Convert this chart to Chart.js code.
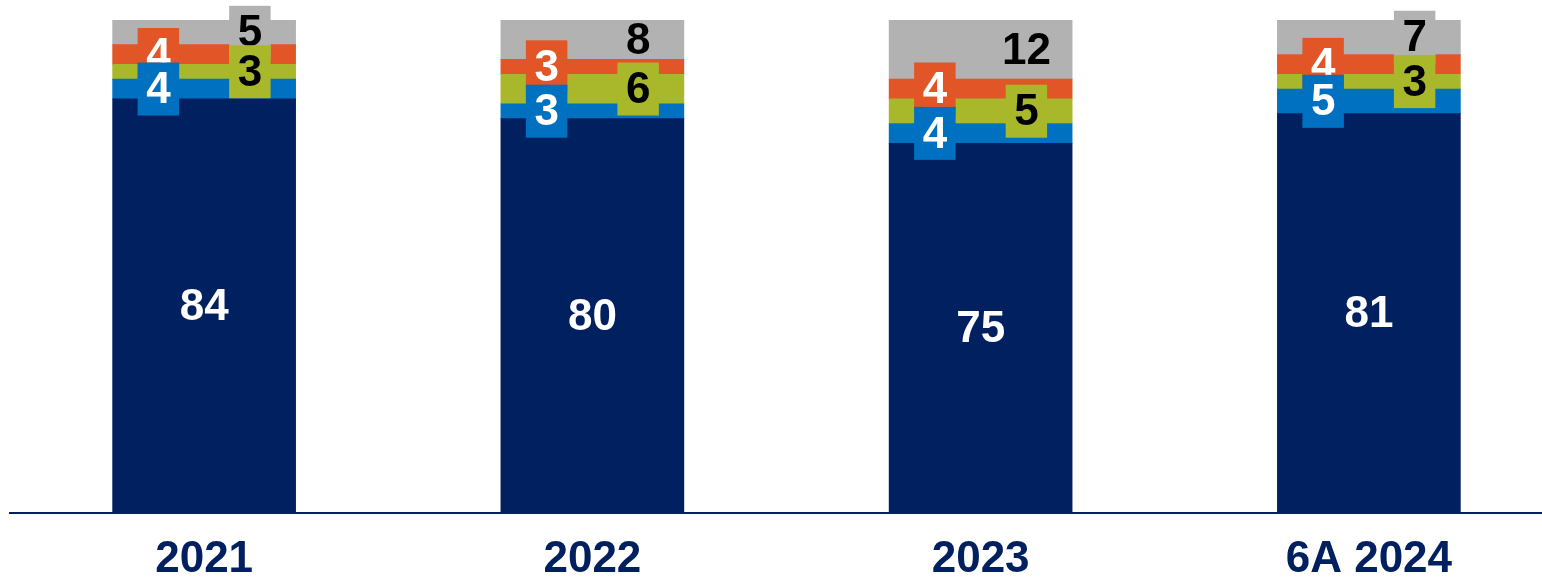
<!DOCTYPE html>
<html>
<head>
<meta charset="utf-8">
<script src="https://cdn.jsdelivr.net/npm/chart.js@4.4.1/dist/chart.umd.min.js"></script>
<style>
  html, body { margin: 0; padding: 0; background: #fff; overflow: hidden; }
  #wrap { position: relative; width: 1564px; height: 584px; }
</style>
</head>
<body>
<div id="wrap"><canvas id="shareChart"></canvas></div>
<script>
const years = ['2021', '2022', '2023', '6A 2024'];
const navyValues = [84, 80, 75, 81];
const blueValues = [4, 3, 4, 5];
const greenValues = [3, 6, 5, 3];
const orangeValues = [4, 3, 4, 4];
const greyValues = [5, 8, 12, 7];

const NAVY = '#002060';
const FONT = '"Liberation Sans", Arial, sans-serif';

// label placement per series: fraction of bar width to shift, and text colour
const labelSide = [0, -0.25, 0.25, -0.25, 0.25];
const labelColors = ['#ffffff', '#ffffff', '#000000', '#ffffff', '#000000'];

const segmentLabels = {
    id: 'segmentLabels',
    afterDatasetsDraw(chart) {
        const ctx = chart.ctx;
        ctx.save();
        ctx.font = 'bold 44px ' + FONT;
        ctx.textAlign = 'center';
        ctx.textBaseline = 'middle';
        // draw top series first so lower labels sit on top of them
        for (let d = chart.data.datasets.length - 1; d >= 0; d--) {
            const ds = chart.data.datasets[d];
            const meta = chart.getDatasetMeta(d);
            meta.data.forEach((bar, i) => {
                const h = bar.base - bar.y;
                const cx = bar.x + labelSide[d] * bar.width;
                const cy = bar.y + h / 2;
                const text = String(ds.data[i]);
                if (h < 38) {
                    const w = ctx.measureText(text).width + 17;
                    ctx.fillStyle = ds.backgroundColor;
                    ctx.fillRect(cx - w / 2, cy - 26.5, w, 53);
                }
                ctx.fillStyle = labelColors[d];
                ctx.fillText(text, cx, cy + 2);
            });
        }
        ctx.restore();
    }
};

const ctx = document.getElementById('shareChart');
new Chart(ctx, {
    type: 'bar',
    data: {
        labels: years,
        datasets: [
            { label: 'navy', data: navyValues, backgroundColor: NAVY },
            { label: 'blue', data: blueValues, backgroundColor: '#0070C0' },
            { label: 'green', data: greenValues, backgroundColor: '#A8B82A' },
            { label: 'orange', data: orangeValues, backgroundColor: '#E15526' },
            { label: 'grey', data: greyValues, backgroundColor: '#B2B2B2' }
        ]
    },
    options: {
        responsive: true,
        maintainAspectRatio: false,
        animation: false,
        events: [],
        barThickness: 183,
        layout: {
            padding: { left: 10, right: 1, top: 20, bottom: 0 }
        },
        plugins: {
            legend: { display: false },
            tooltip: { enabled: false }
        },
        scales: {
            x: {
                stacked: true,
                grid: { display: false, drawTicks: false },
                border: { display: true, color: NAVY, width: 2 },
                ticks: {
                    color: NAVY,
                    padding: 20,
                    font: { family: FONT, size: 44, weight: 'bold' }
                },
                afterFit(scale) {
                    scale.height = 71;
                }
            },
            y: {
                stacked: true,
                display: false,
                min: 0,
                max: 100
            }
        }
    },
    plugins: [segmentLabels]
});
</script>
</body>
</html>
